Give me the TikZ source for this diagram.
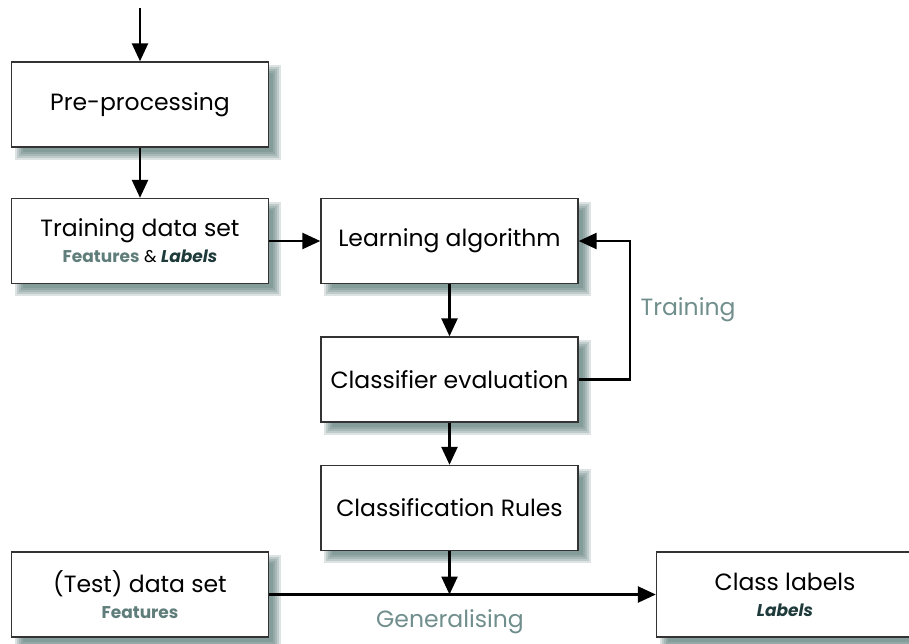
\documentclass[tikz,border=0pt]{standalone}
\usepackage{fontspec}
\setmainfont{Poppins}
\usetikzlibrary{arrows.meta,backgrounds}

\definecolor{shadowc}{RGB}{60,98,95}
\definecolor{featc}{RGB}{95,125,122}
\definecolor{labc}{RGB}{30,58,58}
\definecolor{notec}{RGB}{112,142,140}

\newcommand{\subline}{\fontsize{17}{20}\selectfont}
\newcommand{\feat}{{\bfseries\color{featc}Features}}
\newcommand{\labs}{{\bfseries\itshape\color{labc}Labels}}

\begin{document}
\begin{tikzpicture}[x=1pt,y=-1pt,
  box/.style={draw=black!80, fill=white, line width=1.4pt,
    minimum width=257pt, minimum height=85pt, inner sep=0pt,
    align=center, font=\fontsize{23.5}{26}\selectfont},
  flow/.style={line width=2.5pt, -{Triangle[length=18pt,width=16pt]}},
  note/.style={text=notec, font=\fontsize{23.5}{25}\selectfont}
]
\useasboundingbox (0,0) rectangle (909,643);

% process boxes
\node[box] (pre)   at (140,104.5) {Pre-processing};
\node[box] (train) at (140,241)   {Training data set\\ {\subline\feat{} \& \labs}};
\node[box] (learn) at (449.5,241) {Learning algorithm};
\node[box] (eval)  at (449.5,379.5) {Classifier evaluation};
\node[box] (rules) at (449.5,508) {Classification Rules};
\node[box] (test)  at (140,594.5) {(Test) data set\\ {\subline\feat}};
\node[box] (cls)   at (785,594.5) {Class labels\\ {\subline\labs}};

% soft drop shadows behind the boxes
\begin{pgfonlayer}{background}
  \foreach \n in {pre,train,learn,eval,rules,test,cls}{
    \foreach \k in {-4,-2,0,2,4}{
      \fill[shadowc, opacity=0.18]
        ([shift={(8+\k,8+\k)}]\n.north west) rectangle
        ([shift={(8-\k,8-\k)}]\n.south east);
    }
  }
\end{pgfonlayer}

% connectors
\coordinate (in) at (140,8);
\coordinate (fb) at (630,379.5);
\draw[flow] (in) -- (pre);
\draw[flow] (pre) -- (train);
\draw[flow] (train) -- (learn);
\draw[flow] (learn) -- (eval);
\draw[flow] (eval) -- (rules);
\draw[flow] (eval.east) -- (fb) |- (learn.east);
\draw[flow] (test) -- (cls);
\draw[flow] (rules.south) -- (rules.south |- test.east);

% labels
\node[note] (trn) at (688,310) {Training};
\node[note] (gen) at (450,622) {Generalising};
\end{tikzpicture}
\end{document}
